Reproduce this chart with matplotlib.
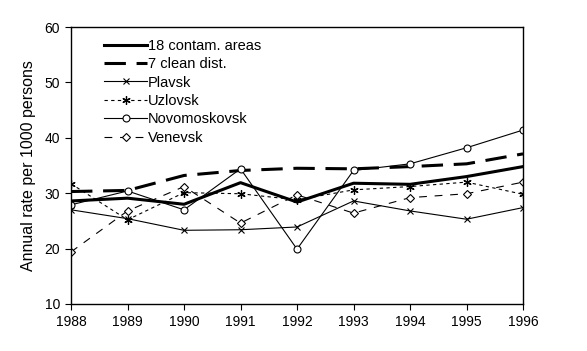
import matplotlib
matplotlib.use("Agg")
import matplotlib.pyplot as plt

plt.rcParams['font.family'] = ['Liberation Sans', 'DejaVu Sans']

# ====== data ======
years = [1988, 1989, 1990, 1991, 1992, 1993, 1994, 1995, 1996]
contam18 = [28.6, 29.1, 28.0, 31.9, 28.4, 31.8, 31.6, 33.0, 34.8]
clean7 = [30.3, 30.5, 33.2, 34.1, 34.5, 34.4, 34.8, 35.3, 37.1]
plavsk = [27.0, 25.4, 23.3, 23.4, 23.9, 28.6, 26.8, 25.3, 27.4]
uzlovsk = [31.7, 25.2, 30.1, 29.9, 28.8, 30.6, 31.2, 32.0, 29.8]
novomoskovsk = [27.9, 30.4, 27.0, 34.4, 19.9, 34.1, 35.3, 38.2, 41.4]
venevsk = [19.4, 26.8, 31.2, 24.6, 29.7, 26.4, 29.2, 29.9, 32.0]

fig = plt.figure(figsize=(5.87, 3.51), dpi=100)
ax = fig.add_axes([0.121, 0.134, 0.770, 0.789])

ax.plot(years, contam18, color='black', lw=2.2, label='18 contam. areas')
ax.plot(years, clean7, color='black', lw=2.2, dashes=(7, 3.5), label='7 clean dist.')
ax.plot(years, plavsk, color='black', lw=0.8, marker='x', ms=4.5, mew=0.8,
        label='Plavsk')
ax.plot(years, uzlovsk, color='black', lw=0.8, ls=(0, (3, 3)), marker=(6, 2, 0),
        ms=6, mew=0.9, label='Uzlovsk')
ax.plot(years, novomoskovsk, color='black', lw=0.8, marker='o', ms=5,
        mfc='white', mew=0.8, label='Novomoskovsk')
ax.plot(years, venevsk, color='black', lw=0.8, ls=(0, (7, 7)), marker='D',
        ms=4.5, mfc='white', mew=0.8, label='Venevsk')

ax.set_xlim(1988, 1996)
ax.set_ylim(10, 60)
ax.set_xticks(years)
ax.set_yticks([10, 20, 30, 40, 50, 60])
ax.tick_params(direction='out', length=4, width=0.8, labelsize=10, pad=4)
for s in ax.spines.values():
    s.set_linewidth(1.0)
ax.set_ylabel('Annual rate per 1000 persons', fontsize=11.5, labelpad=6)

ax.legend(loc='upper left', bbox_to_anchor=(0.045, 1.005), frameon=False,
          fontsize=10.5, handlelength=2.9, handletextpad=0.1, labelspacing=0.3)

fig.savefig('out.png', dpi=100)
